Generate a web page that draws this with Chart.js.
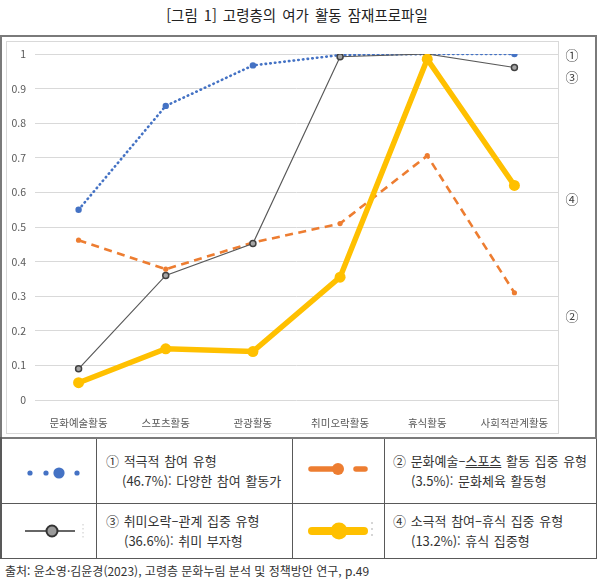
<!DOCTYPE html>
<html lang="ko">
  <head>
    <meta charset="UTF-8" />
    <title>고령층의 여가 활동 잠재프로파일</title>
    <script src="https://cdn.jsdelivr.net/npm/chart.js"></script>
    <style>
      body {
        margin: 0;
        width: 604px;
        height: 580px;
        background: #fff;
        font-family: "Noto Sans CJK KR", "Noto Sans", sans-serif;
        color: #333;
        position: relative;
        overflow: hidden;
      }
      .abs {
        position: absolute;
        box-sizing: border-box;
      }
      #title {
        left: 0;
        top: 5px;
        width: 594px;
        text-align: center;
        font-size: 14.5px;
        word-spacing: 2px;
        color: #222;
        line-height: 20px;
      }
      #outer {
        left: 0;
        top: 35px;
        width: 597px;
        height: 404px;
        border: 2px solid #7a7a7a;
      }
      #inner {
        left: 6px;
        top: 41px;
        width: 553px;
        height: 393px;
        border: 1px solid #d9d9d9;
      }
      #chartBox {
        left: 0;
        top: 36px;
        width: 596px;
        height: 401px;
      }
      .cell {
        border-right: 1px solid #595959;
        border-bottom: 1px solid #595959;
      }
      .txt {
        font-size: 13px;
        word-spacing: 1px;
        line-height: 20px;
        color: #333;
        padding: 15px 0 0 9px;
        white-space: nowrap;
      }
      .txt .l2 {
        padding-left: 16px;
      }
      #source {
        left: 5px;
        top: 562px;
        font-size: 12px;
        color: #333;
        white-space: nowrap;
      }
    </style>
  </head>
  <body>
    <div id="title" class="abs">[그림 1] 고령층의 여가 활동 잠재프로파일</div>
    <div id="outer" class="abs"></div>
    <div id="inner" class="abs"></div>
    <div id="chartBox" class="abs"><canvas id="grafica"></canvas></div>

    <!-- legend table -->
    <div class="abs" style="left:0;top:437px;width:597px;height:2px;background:#7a7a7a"></div>
    <div class="abs" style="left:0;top:437px;width:2px;height:122px;background:#595959"></div>

    <div class="abs cell" style="left:0;top:439px;width:97px;height:65px">
      <svg width="96" height="64">
        <circle cx="30" cy="34" r="2.6" fill="#4472C4" />
        <circle cx="46" cy="34" r="2.6" fill="#4472C4" />
        <circle cx="59" cy="34" r="5.6" fill="#4472C4" />
        <circle cx="77" cy="34" r="2.6" fill="#4472C4" />
      </svg>
    </div>
    <div class="abs cell txt" style="left:97px;top:439px;width:196px;height:65px;padding-top:12px">
      <div>① 적극적 참여 유형</div>
      <div class="l2">(46.7%): 다양한 참여 활동가</div>
    </div>
    <div class="abs cell" style="left:293px;top:439px;width:92px;height:65px">
      <svg width="91" height="64">
        <line x1="18" y1="30" x2="45" y2="30" stroke="#ED7D31" stroke-width="5.5" stroke-linecap="round" />
        <circle cx="45" cy="30" r="6" fill="#ED7D31" />
        <line x1="63" y1="30" x2="72" y2="30" stroke="#ED7D31" stroke-width="5.5" stroke-linecap="round" />
      </svg>
    </div>
    <div class="abs cell txt" style="left:385px;top:439px;width:212px;height:65px;padding-top:12px;padding-left:8px">
      <div>② 문화예술–<u>스포츠</u> 활동 집중 유형</div>
      <div class="l2" style="padding-left:18px">(3.5%): 문화체육 활동형</div>
    </div>

    <div class="abs cell" style="left:0;top:504px;width:97px;height:55px">
      <svg width="96" height="54">
        <line x1="25" y1="27" x2="75" y2="27" stroke="#333" stroke-width="1.5" />
        <circle cx="52" cy="27" r="5.5" fill="#9a9a9a" stroke="#333" stroke-width="2" />
        <line x1="83" y1="20" x2="83" y2="34" stroke="#c8c8c8" stroke-width="1" stroke-dasharray="1.5,2.5" />
      </svg>
    </div>
    <div class="abs cell txt" style="left:97px;top:504px;width:196px;height:55px;padding-top:7px">
      <div>③ 취미오락–관계 집중 유형</div>
      <div class="l2" style="padding-left:18px">(36.6%): 취미 부자형</div>
    </div>
    <div class="abs cell" style="left:293px;top:504px;width:92px;height:55px">
      <svg width="91" height="54">
        <line x1="19" y1="27" x2="71" y2="27" stroke="#FFC000" stroke-width="8" stroke-linecap="round" />
        <circle cx="46" cy="27" r="8.5" fill="#FFC000" />
        <line x1="79" y1="18" x2="79" y2="36" stroke="#bbb" stroke-width="1.2" stroke-dasharray="2,4" />
      </svg>
    </div>
    <div class="abs cell txt" style="left:385px;top:504px;width:212px;height:55px;padding-top:7px;padding-left:8px">
      <div>④ 소극적 참여–휴식 집중 유형</div>
      <div class="l2" style="padding-left:18px">(13.2%): 휴식 집중형</div>
    </div>

    <div id="source" class="abs">출처: 윤소영·김윤경(2023), 고령층 문화누림 분석 및 정책방안 연구, p.49</div>

    <script>
      // categories (x axis)
      const categories = ["문화예술활동", "스포츠활동", "관광활동", "취미오락활동", "휴식활동", "사회적관계활동"];

      // series values
      const type1 = [0.55, 0.85, 0.967, 0.997, 1.0, 1.0]; // ① 적극적 참여 유형
      const type2 = [0.462, 0.378, 0.455, 0.51, 0.706, 0.31]; // ② 문화예술-스포츠 활동 집중 유형
      const type3 = [0.09, 0.36, 0.452, 0.992, 1.0, 0.961]; // ③ 취미오락-관계 집중 유형
      const type4 = [0.05, 0.148, 0.14, 0.355, 0.985, 0.62]; // ④ 소극적 참여-휴식 집중 유형

      // y tick labels
      const yTickLabels = ["0", "0.1", "0.2", "0.3", "0.4", "0.5", "0.6", "0.7", "0.8", "0.9", "1"];

      // circled marks on the right side and the value they sit at
      const sideLabels = ["①", "③", "④", "②"];
      const sideLabelValues = [0.997, 0.934, 0.581, 0.243];

      const sideLabelPlugin = {
        id: "sideLabels",
        afterDraw(chart) {
          const ctx = chart.ctx;
          const y = chart.scales.y;
          ctx.save();
          ctx.font = '13px "Noto Sans CJK KR"';
          ctx.fillStyle = "#404040";
          ctx.textAlign = "center";
          ctx.textBaseline = "middle";
          sideLabels.forEach(function (t, i) {
            ctx.fillText(t, chart.chartArea.right + 14, y.getPixelForValue(sideLabelValues[i]));
          });
          ctx.restore();
        },
      };

      const tickFont = { family: '"Noto Sans CJK KR"', size: 10.5 };

      new Chart(document.getElementById("grafica").getContext("2d"), {
        type: "line",
        data: {
          labels: categories,
          datasets: [
            {
              label: "① 적극적 참여 유형",
              data: type1,
              borderColor: "#4472C4",
              backgroundColor: "#4472C4",
              borderWidth: 2.6,
              borderDash: [0.5, 4.2],
              borderCapStyle: "round",
              pointRadius: 3.2,
              pointBorderWidth: 0,
              order: 3,
            },
            {
              label: "② 문화예술-스포츠 활동 집중 유형",
              data: type2,
              borderColor: "#ED7D31",
              backgroundColor: "#ED7D31",
              borderWidth: 2.6,
              borderDash: [8, 5.5],
              pointRadius: 2.6,
              pointBorderWidth: 0,
              order: 2,
            },
            {
              label: "③ 취미오락-관계 집중 유형",
              data: type3,
              borderColor: "#595959",
              backgroundColor: "#a5a5a5",
              borderWidth: 1.2,
              pointRadius: 3,
              pointBorderColor: "#404040",
              pointBorderWidth: 1.5,
              order: 1,
            },
            {
              label: "④ 소극적 참여-휴식 집중 유형",
              data: type4,
              borderColor: "#FFC000",
              backgroundColor: "#FFC000",
              borderWidth: 5.5,
              pointRadius: 5.5,
              pointBorderWidth: 0,
              order: 0,
            },
          ],
        },
        options: {
          responsive: true,
          maintainAspectRatio: false,
          animation: false,
          events: [],
          tension: 0,
          layout: { padding: { top: 18, right: 38, bottom: 0, left: 0 } },
          scales: {
            x: {
              offset: true,
              grid: { display: false },
              border: { display: false },
              ticks: { color: "#595959", font: tickFont, padding: 9, maxRotation: 0, autoSkip: false },
              afterFit: function (s) {
                s.height = 37;
              },
            },
            y: {
              min: 0,
              max: 1,
              grid: { color: "#d9d9d9", drawTicks: false, lineWidth: 1 },
              border: { display: false },
              ticks: {
                stepSize: 0.1,
                color: "#595959",
                font: tickFont,
                padding: 9,
                callback: function (v, i) {
                  return yTickLabels[i];
                },
              },
              afterFit: function (s) {
                s.width = 35;
              },
            },
          },
          plugins: {
            legend: { display: false },
            tooltip: { enabled: false },
          },
        },
        plugins: [sideLabelPlugin],
      });
    </script>
  </body>
</html>
